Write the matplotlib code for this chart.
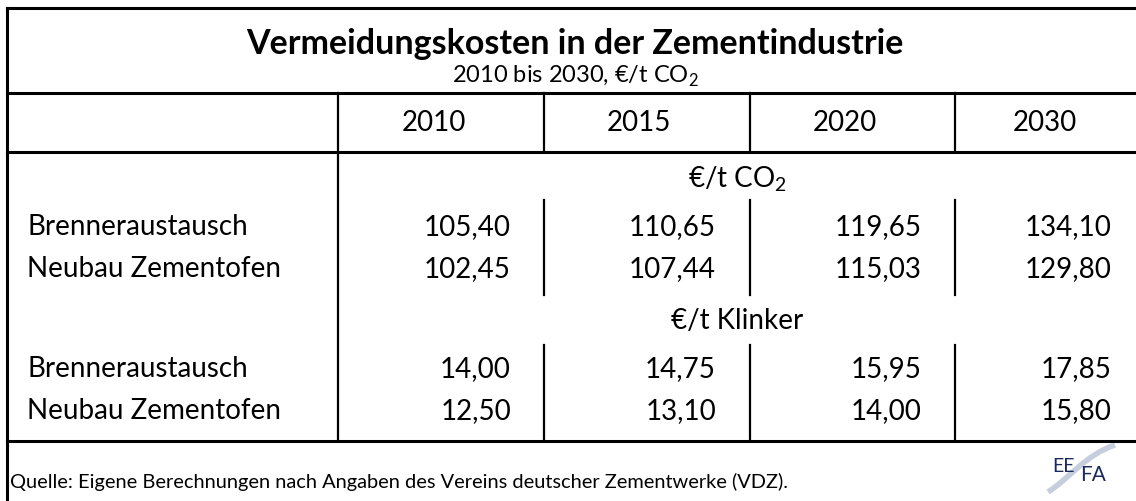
"""
Vermeidungskosten in der Zementindustrie - table figure rebuilt with matplotlib.
"""

import matplotlib
matplotlib.use("Agg")
import matplotlib.pyplot as plt
from matplotlib.patches import PathPatch
from matplotlib.path import Path

plt.rcParams["font.family"] = ["Lato", "DejaVu Sans"]
plt.rcParams["mathtext.fontset"] = "custom"
plt.rcParams["mathtext.rm"] = "Lato"

# ---------------------------------------------------------------------------
# Data
# ---------------------------------------------------------------------------
years = ["2010", "2015", "2020", "2030"]
measures = ["Brenneraustausch", "Neubau Zementofen"]

brenner_co2 = [105.40, 110.65, 119.65, 134.10]
neubau_co2 = [102.45, 107.44, 115.03, 129.80]
brenner_klinker = [14.00, 14.75, 15.95, 17.85]
neubau_klinker = [12.50, 13.10, 14.00, 15.80]

title = "Vermeidungskosten in der Zementindustrie"
subtitle = r"2010 bis 2030, €/t CO$_\mathrm{2}$"
unit_co2 = r"€/t CO$_\mathrm{2}$"
unit_klinker = "€/t Klinker"
source = "Quelle: Eigene Berechnungen nach Angaben des Vereins deutscher Zementwerke (VDZ)."


def _fmt(v: float) -> str:
    return f"{v:.2f}".replace(".", ",")


# ---------------------------------------------------------------------------
# Layout (pixel coordinates, y downwards)
# ---------------------------------------------------------------------------
W, H = 1136, 501
col_edges = [338, 544, 750, 955, 1136]
top, line_sub, line_head, line_bottom = 8, 93, 152, 441
left = 7
num_right = [511, 716, 922, 1112]     # right edge of the value columns
year_center = [434, 639, 845, 1045]

fig = plt.figure(figsize=(W / 100, H / 100), dpi=100)
ax = fig.add_axes([0, 0, 1, 1])
ax.set_xlim(0, W)
ax.set_ylim(H, 0)
ax.axis("off")

thick = 2.2
thin = 1.6
body = 20

# frame
ax.plot([left, W], [top, top], color="black", lw=thick)
ax.plot([left, left], [top, H], color="black", lw=thick)
for y in (line_sub, line_head, line_bottom):
    ax.plot([left, W], [y, y], color="black", lw=thick)

# full height divider after the label column
ax.plot([col_edges[0]] * 2, [line_sub, line_bottom], color="black", lw=thin)
# header dividers
for x in col_edges[1:-1]:
    ax.plot([x, x], [line_sub, line_head], color="black", lw=thin)
# short dividers inside the two value blocks
for y0, y1 in ((200, 295), (345, line_bottom)):
    for x in col_edges[1:-1]:
        ax.plot([x, x], [y0, y1], color="black", lw=thin)

# title
ax.text(575, 44, title, ha="center", va="center", fontsize=24.5,
        fontweight="bold")
ax.text(575, 76, subtitle, ha="center", va="center", fontsize=17)

# year header
for cx, yr in zip(year_center, years):
    ax.text(cx, 123, yr, ha="center", va="center", fontsize=body)

data_center = (col_edges[0] + col_edges[-1]) / 2
blocks = [
    (unit_co2, 179, [(measures[0], brenner_co2, 227), (measures[1], neubau_co2, 269)]),
    (unit_klinker, 321, [(measures[0], brenner_klinker, 369), (measures[1], neubau_klinker, 411)]),
]
for unit, uy, rows in blocks:
    ax.text(data_center, uy, unit, ha="center", va="center", fontsize=body)
    for label, vals, ry in rows:
        ax.text(27, ry, label, ha="left", va="center", fontsize=body)
        for xr, v in zip(num_right, vals):
            ax.text(xr, ry, _fmt(v), ha="right", va="center", fontsize=body)

# source line
ax.text(10, 482, source, ha="left", va="center", fontsize=14.4)

# EEFA logo
swoosh = Path([(1048, 492), (1070, 478), (1085, 455), (1115, 445)],
              [Path.MOVETO, Path.CURVE4, Path.CURVE4, Path.CURVE4])
ax.add_patch(PathPatch(swoosh, facecolor="none", edgecolor="#b8c2d6", lw=4,
                       alpha=0.8))
ax.text(1064, 466, "EE", ha="center", va="center", fontsize=14,
        color="#1b2a5c")
ax.text(1093, 475, "FA", ha="center", va="center", fontsize=15,
        color="#1b2a5c")

fig.savefig("out.png", dpi=100)
